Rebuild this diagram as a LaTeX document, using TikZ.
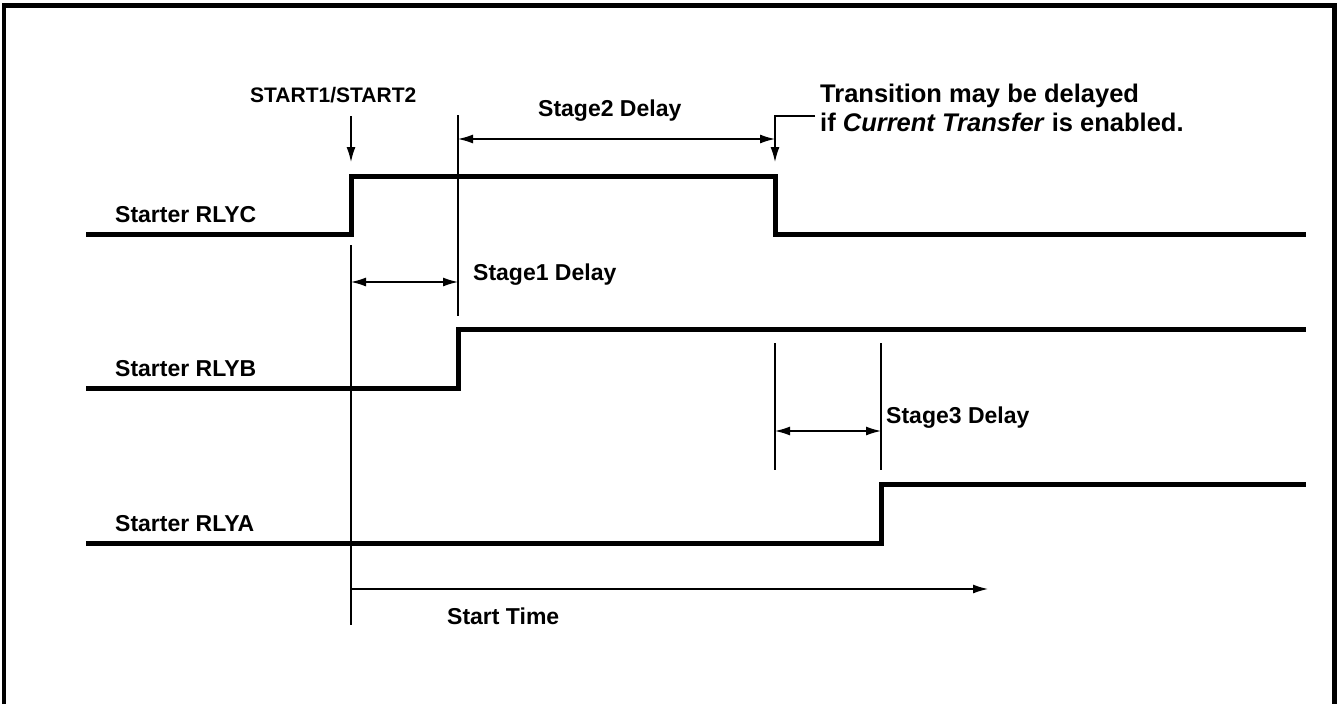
\documentclass[tikz,border=0pt]{standalone}
\usepackage{fontspec}
\setmainfont{Liberation Sans}
\usetikzlibrary{arrows.meta}
\tikzset{
  sig/.style={line width=5pt, line join=miter},
  dim/.style={line width=1.3pt},
  lbl/.style={anchor=base west, inner sep=0pt, font=\fontsize{23}{25}\selectfont\bfseries},
}
\begin{document}
\begin{tikzpicture}[x=1pt, y=-1pt, >={Latex[length=15pt,width=9pt]}]
  \def\xs{86} \def\xe{1306}
  \def\ta{351} \def\tb{458} \def\tc{775} \def\td{881}
  \useasboundingbox (0,0) rectangle (1338,704);
  % frame, open at the bottom
  \draw[line width=4.5pt] (4,704)--(4,5.5)--(1334.5,5.5)--(1334.5,704);
  % labels
  \node[lbl] (rlyc) at (115,222) {Starter RLYC};
  \node[lbl] (rlyb) at (115,376) {Starter RLYB};
  \node[lbl] (rlya) at (115,531) {Starter RLYA};
  \node[lbl, font=\fontsize{21}{23}\selectfont\bfseries] (start) at (250,102) {START1/START2};
  \node[lbl] (st2) at (538,116) {Stage2 Delay};
  \node[lbl] (st1) at (473,280) {Stage1 Delay};
  \node[lbl] (st3) at (886,423) {Stage3 Delay};
  \node[lbl] (time) at (447,624) {Start Time};
  \node[lbl, align=left, font=\fontsize{25.5}{29}\selectfont\bfseries] (trans) at (820,131)
    {Transition may be delayed\\if \textit{Current Transfer} is enabled.};
  % signals
  \draw[sig] (\xs,234)--(\ta,234)--(\ta,176)--(\tc,176)--(\tc,234)--(\xe,234);
  \draw[sig] (\xs,388)--(\tb,388)--(\tb,329)--(\xe,329);
  \draw[sig] (\xs,543)--(\td,543)--(\td,484)--(\xe,484);
  % extension lines
  \coordinate (a1) at (\ta,245); \coordinate (a2) at (\ta,625);
  \coordinate (b1) at (\tb,115); \coordinate (b2) at (\tb,316);
  \coordinate (c1) at (\tc,343); \coordinate (c2) at (\tc,470);
  \coordinate (d1) at (\td,343); \coordinate (d2) at (\td,470);
  \draw[dim] (a1)--(a2) (b1)--(b2) (c1)--(c2) (d1)--(d2);
  % delays
  \draw[dim,<->] (\ta,282)--(\tb,282);
  \draw[dim,<->] (\tb,139)--(\tc,139);
  \draw[dim,<->] (\tc,431)--(\td,431);
  \draw[dim,->] (a2|-0,589)--(988,589);
  % start and callout arrows
  \coordinate (s0) at (\ta,116); \coordinate (s1) at (\ta,162);
  \draw[dim,->] (s0)--(s1);
  \coordinate (co) at (815,116);
  \draw[dim,->] (co)--(\tc,116)--(\tc,162);
\end{tikzpicture}
\end{document}
